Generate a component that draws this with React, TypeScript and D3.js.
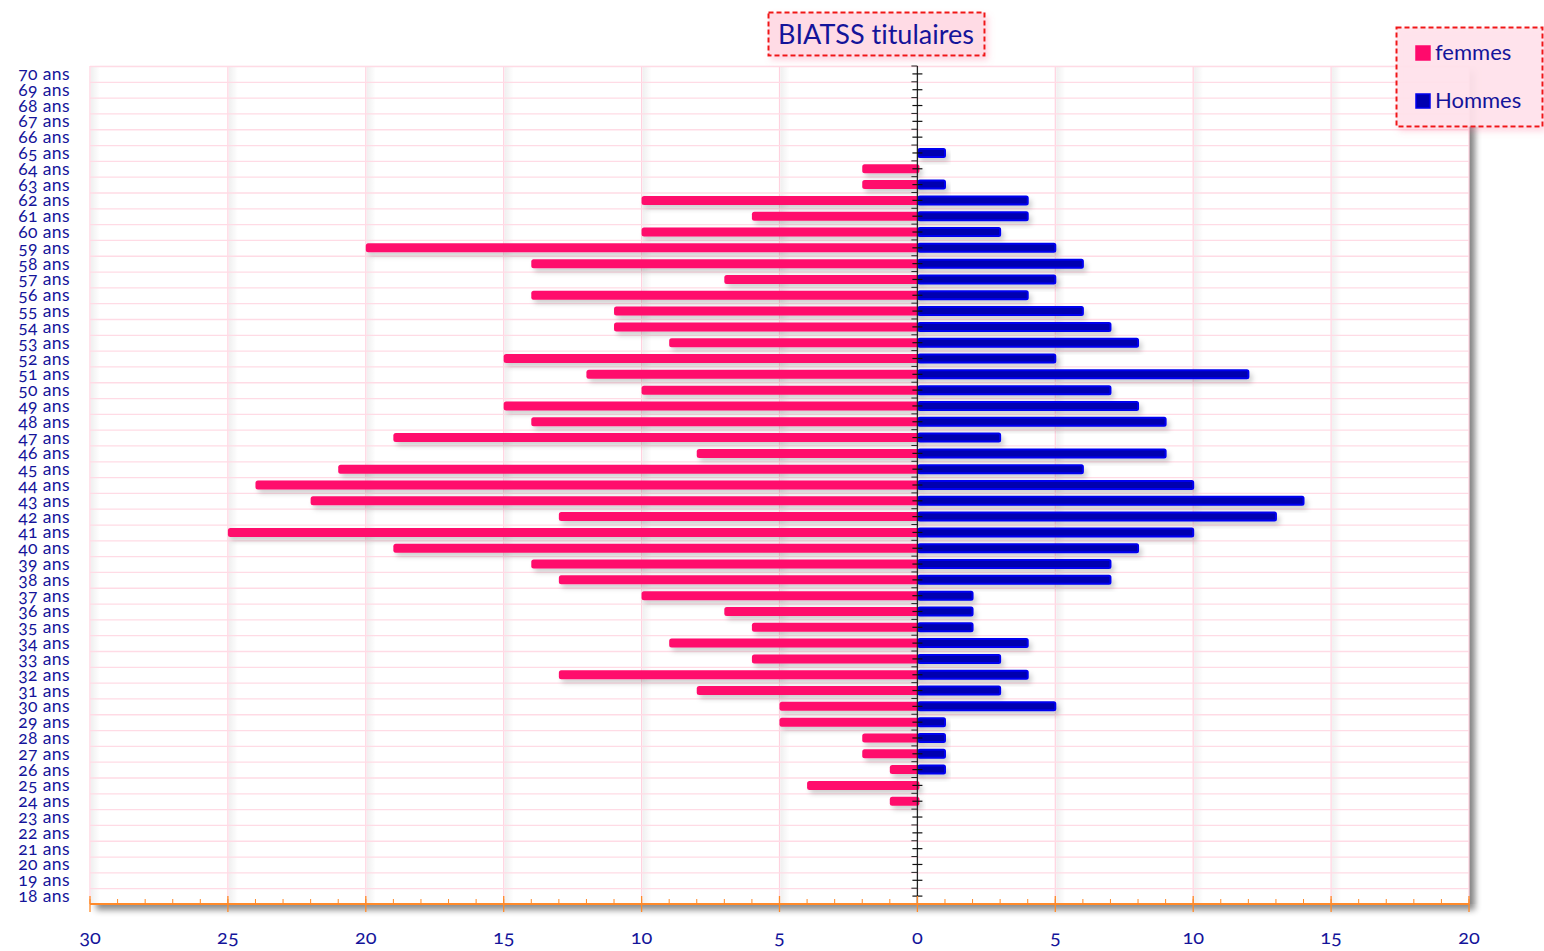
import * as d3 from 'd3'
import { useEffect, useRef } from 'react'

// ages, top of chart first
const ages: number[] = d3.range(70, 17, -1)

// femmes per age (70 -> 18)
const femmes: number[] = [
  0, 0, 0, 0, 0, 0, // 70-65
  2, 2, 10, 6, 10, 20, 14, 7, 14, 11, 11, 9, 15, 12, 10, // 64-50
  15, 14, 19, 8, 21, 24, 22, 13, 25, 19, // 49-40
  14, 13, 10, 7, 6, 9, 6, 13, 8, 5, // 39-30
  5, 2, 2, 1, 4, 1, // 29-24
  0, 0, 0, 0, 0, 0 // 23-18
]

// hommes per age (70 -> 18)
const hommes: number[] = [
  0, 0, 0, 0, 0, 1, // 70-65
  0, 1, 4, 4, 3, 5, 6, 5, 4, 6, 7, 8, 5, 12, 7, // 64-50
  8, 9, 3, 9, 6, 10, 14, 13, 10, 8, // 49-40
  7, 7, 2, 2, 2, 4, 3, 4, 3, 5, // 39-30
  1, 1, 1, 1, 0, 0, // 29-24
  0, 0, 0, 0, 0, 0 // 23-18
]

const xTicks: number[] = [-30, -25, -20, -15, -10, -5, 0, 5, 10, 15, 20]
const seriesNames: string[] = ['femmes', 'Hommes']
const title = 'BIATSS titulaires'

const navy = '#14149a'
const pink = '#ff0a6c'
const blue = '#0000f0'
const font = 'Lato, "Open Sans", sans-serif'

export default function App() {
  const svgRef = useRef<SVGSVGElement>(null)
  const width = 1544
  const height = 951

  useEffect(() => {
    const svg = d3.select(svgRef.current)
    svg.selectAll('*').remove()

    const left = 90, right = 1469, top = 66, bottom = 904

    const x = d3.scaleLinear().domain([-30, 20]).range([left, right])
    const y = d3.scaleBand<number>().domain(ages).range([top, bottom])
    const barH = 9

    const defs = svg.append('defs')
    const sh = defs.append('filter').attr('id', 'barShadow')
      .attr('x', '-10%').attr('y', '-50%').attr('width', '130%').attr('height', '250%')
    sh.append('feDropShadow').attr('dx', 3).attr('dy', 4).attr('stdDeviation', 2.5)
      .attr('flood-color', '#000').attr('flood-opacity', 0.18)
    const ps = defs.append('filter').attr('id', 'plotShadow')
      .attr('x', '-5%').attr('y', '-5%').attr('width', '115%').attr('height', '115%')
    ps.append('feDropShadow').attr('dx', 6).attr('dy', 6).attr('stdDeviation', 3)
      .attr('flood-color', '#000').attr('flood-opacity', 0.45)
    const bs = defs.append('filter').attr('id', 'boxShadow')
      .attr('x', '-20%').attr('y', '-20%').attr('width', '140%').attr('height', '160%')
    bs.append('feDropShadow').attr('dx', 3).attr('dy', 4).attr('stdDeviation', 3)
      .attr('flood-color', '#ff6d95').attr('flood-opacity', 0.3)
    const gg = defs.append('linearGradient').attr('id', 'gridShade')
      .attr('x1', 0).attr('x2', 1).attr('y1', 0).attr('y2', 0)
    gg.append('stop').attr('offset', 0).attr('stop-color', '#000').attr('stop-opacity', 0.06)
    gg.append('stop').attr('offset', 1).attr('stop-color', '#000').attr('stop-opacity', 0)

    // plot background with shadow
    svg.append('rect')
      .attr('x', left).attr('y', top).attr('width', right - left).attr('height', bottom - top)
      .attr('fill', '#fff').attr('filter', 'url(#plotShadow)')

    const g = svg.append('g')

    // vertical grid with shading
    const vGrid = xTicks.filter((t) => t !== 0)
    g.selectAll('rect.shade').data(vGrid).join('rect')
      .attr('class', 'shade')
      .attr('x', (d) => x(d) + 1).attr('y', top)
      .attr('width', 9).attr('height', bottom - top)
      .attr('fill', 'url(#gridShade)')
    g.selectAll('line.vgrid').data(vGrid).join('line')
      .attr('class', 'vgrid')
      .attr('x1', (d) => x(d)).attr('x2', (d) => x(d))
      .attr('y1', top).attr('y2', bottom)
      .attr('stroke', '#ffd2df').attr('stroke-width', 1.2)

    // horizontal grid at band edges
    const edges = ages.map((a) => y(a) as number)
    g.selectAll('line.hgrid').data(edges).join('line')
      .attr('class', 'hgrid')
      .attr('x1', left).attr('x2', right)
      .attr('y1', (d) => d + 0.5).attr('y2', (d) => d + 0.5)
      .attr('stroke', '#ffdbe5').attr('stroke-width', 1.3)

    // bars
    const bars = svg.append('g')
    bars.selectAll('rect.f').data(ages.filter((_, i) => femmes[i] > 0)).join('rect')
      .attr('class', 'f')
      .attr('x', (d) => x(-femmes[ages.indexOf(d)]))
      .attr('y', (d) => (y(d) as number) + y.bandwidth() / 2 - barH / 2)
      .attr('width', (d) => x(0) - x(-femmes[ages.indexOf(d)]) + 2)
      .attr('height', barH)
      .attr('rx', 2.5)
      .attr('fill', pink)
      .attr('filter', 'url(#barShadow)')
    bars.selectAll('rect.h').data(ages.filter((_, i) => hommes[i] > 0)).join('rect')
      .attr('class', 'h')
      .attr('x', x(0) + 1)
      .attr('y', (d) => (y(d) as number) + y.bandwidth() / 2 - barH / 2 + 0.5)
      .attr('width', (d) => x(hommes[ages.indexOf(d)]) - x(0) - 1)
      .attr('height', barH - 1)
      .attr('rx', 1.5)
      .attr('fill', '#0000b0')
      .attr('stroke', blue).attr('stroke-width', 2)
      .attr('filter', 'url(#barShadow)')

    // vertical axis at 0
    const ax = svg.append('g')
    ax.append('line')
      .attr('x1', x(0)).attr('x2', x(0)).attr('y1', top).attr('y2', bottom)
      .attr('stroke', '#222').attr('stroke-width', 1.3)
    ax.selectAll('line.et').data(edges).join('line')
      .attr('class', 'et')
      .attr('x1', x(0) - 6).attr('x2', x(0))
      .attr('y1', (d) => d).attr('y2', (d) => d)
      .attr('stroke', '#222').attr('stroke-width', 1)
    ax.selectAll('line.ct').data(ages).join('line')
      .attr('class', 'ct')
      .attr('x1', x(0) - 5).attr('x2', x(0) + 5)
      .attr('y1', (d) => (y(d) as number) + y.bandwidth() / 2)
      .attr('y2', (d) => (y(d) as number) + y.bandwidth() / 2)
      .attr('stroke', '#111').attr('stroke-width', 1.2)

    // age labels
    svg.append('g').selectAll('text').data(ages).join('text')
      .attr('x', 70)
      .attr('y', (d) => (y(d) as number) + y.bandwidth() / 2 + 6)
      .attr('text-anchor', 'end')
      .attr('font-family', font).attr('font-size', 17.5)
      .attr('letter-spacing', 0.4)
      .style('font-variant-numeric', 'oldstyle-nums')
      .attr('fill', navy)
      .text((d) => d + ' ans')

    // bottom axis
    const bx = svg.append('g')
    bx.append('line')
      .attr('x1', left).attr('x2', right).attr('y1', bottom).attr('y2', bottom)
      .attr('stroke', '#ff8a2a').attr('stroke-width', 2)
    bx.selectAll('line.minor').data(d3.range(-30, 21)).join('line')
      .attr('class', 'minor')
      .attr('x1', (d) => x(d)).attr('x2', (d) => x(d))
      .attr('y1', bottom - 5).attr('y2', bottom)
      .attr('stroke', '#ff8a2a').attr('stroke-width', 1)
    bx.selectAll('line.major').data(xTicks).join('line')
      .attr('class', 'major')
      .attr('x1', (d) => x(d)).attr('x2', (d) => x(d))
      .attr('y1', bottom - 8).attr('y2', bottom + 8)
      .attr('stroke', '#ff8a2a').attr('stroke-width', 1.3)
    bx.selectAll('text').data(xTicks).join('text')
      .attr('x', (d) => x(d)).attr('y', 944)
      .attr('text-anchor', 'middle')
      .attr('font-family', font).attr('font-size', 20)
      .style('font-variant-numeric', 'oldstyle-nums')
      .attr('fill', navy)
      .text((d) => String(Math.abs(d)))

    // title
    const tg = svg.append('g')
    tg.append('rect')
      .attr('x', 768.5).attr('y', 12.5).attr('width', 216).attr('height', 43)
      .attr('fill', '#ffdbe5').attr('stroke', '#f01818').attr('stroke-width', 2)
      .attr('stroke-dasharray', '5,3').attr('filter', 'url(#boxShadow)')
    tg.append('text')
      .attr('x', 876).attr('y', 44)
      .attr('text-anchor', 'middle')
      .attr('font-family', font).attr('font-size', 27)
      .style('font-variant-ligatures', 'none')
      .attr('fill', navy)
      .text(title)

    // legend
    const lg = svg.append('g')
    lg.append('rect')
      .attr('x', 1396.5).attr('y', 27.5).attr('width', 146).attr('height', 99)
      .attr('fill', '#ffe3ec').attr('fill-opacity', 0.93)
      .attr('stroke', '#f01818').attr('stroke-width', 2)
      .attr('stroke-dasharray', '5,3').attr('filter', 'url(#boxShadow)')
    const colors = [pink, '#0000b0']
    seriesNames.forEach((name, i) => {
      const cy = 53 + i * 48
      lg.append('rect')
        .attr('x', 1416).attr('y', cy - 7).attr('width', 14).attr('height', 14)
        .attr('fill', colors[i])
        .attr('stroke', i === 1 ? blue : pink).attr('stroke-width', 1.5)
      lg.append('text')
        .attr('x', 1435).attr('y', cy + 7)
        .attr('font-family', font).attr('font-size', 22)
        .attr('fill', navy)
        .text(name)
    })
  }, [])

  return (
    <svg
      ref={svgRef}
      width={width}
      height={height}
      style={{ position: 'absolute', left: 0, top: 0, background: '#fff' }}
    ></svg>
  )
}
